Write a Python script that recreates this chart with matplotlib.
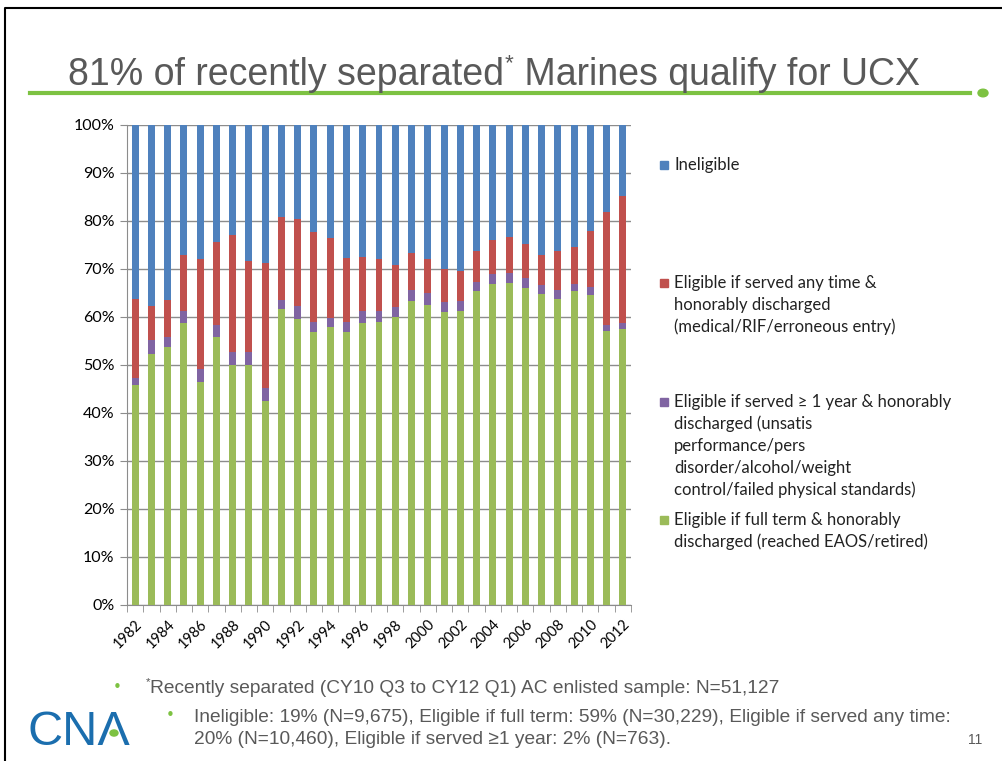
import numpy as np
import matplotlib.pyplot as plt
from matplotlib.lines import Line2D
from matplotlib.patches import Rectangle, Circle

years = np.arange(1982, 2013)

# cumulative tops (percent)
full_term = [45.9, 52.3, 53.7, 58.7, 46.4, 55.9, 49.9, 50.0, 42.4, 61.7, 59.5,
             56.8, 57.9, 56.8, 58.7, 59.0, 60.0, 63.3, 62.6, 61.0, 61.2, 65.5,
             66.9, 67.1, 66.0, 64.8, 63.7, 65.5, 64.6, 57.0, 57.5]
one_year_top = [47.3, 55.2, 55.8, 61.2, 49.1, 58.3, 52.7, 52.7, 45.2, 63.5, 62.2,
                59.0, 59.7, 59.0, 61.3, 61.3, 62.1, 65.6, 65.1, 63.2, 63.3, 67.2,
                69.0, 69.2, 68.1, 66.6, 65.6, 66.8, 66.3, 58.4, 58.8]
any_time_top = [63.8, 62.2, 63.6, 72.9, 72.0, 75.7, 77.1, 71.6, 71.3, 80.9, 80.5,
                77.7, 76.4, 72.2, 72.6, 72.1, 70.9, 73.3, 72.0, 69.9, 69.5, 73.7,
                76.1, 76.6, 75.2, 73.0, 73.7, 74.5, 78.0, 81.8, 85.3]

full_term = np.array(full_term)
one_year = np.array(one_year_top) - full_term
any_time = np.array(any_time_top) - np.array(one_year_top)
ineligible = 100 - np.array(any_time_top)

c_blue, c_red, c_purple, c_green = "#4F81BD", "#C0504D", "#8064A2", "#9BBB59"
gray_txt = "#595959"
sans = ["Liberation Sans", "DejaVu Sans"]
body = ["Lato", "DejaVu Sans"]

fig = plt.figure(figsize=(10.02, 7.61), dpi=100)
W, H = 1002, 761
fx = lambda px: px / W
fy = lambda py: 1 - py / H
renderer = fig.canvas.get_renderer()


def text_with_star(x0, y0, before, after, size, **kw):
    # text, then a small raised asterisk, then the rest
    x1 = x0
    if before:
        t1 = fig.text(x0, y0, before, fontsize=size, **kw)
        x1 = t1.get_window_extent(renderer).x1 / W + fx(1)
    t2 = fig.text(x1, y0 + size * 0.42 / 72 * 100 / H, "*", fontsize=size * 0.6, **kw)
    x2 = t2.get_window_extent(renderer).x1 / W
    if after:
        fig.text(x2, y0, after, fontsize=size, **kw)


ax = fig.add_axes([fx(127), fy(605), fx(631) - fx(127), fy(125) - fy(605)])
x = np.arange(len(years))
bw = 0.43
ax.bar(x, full_term, bw, color=c_green, zorder=3)
ax.bar(x, one_year, bw, bottom=full_term, color=c_purple, zorder=3)
ax.bar(x, any_time, bw, bottom=full_term + one_year, color=c_red, zorder=3)
ax.bar(x, ineligible, bw, bottom=np.array(any_time_top), color=c_blue, zorder=3)

ax.set_xlim(-0.5, len(years) - 0.5)
ax.set_ylim(0, 100)
ax.set_yticks(np.arange(0, 101, 10))
ax.set_yticklabels([f"{v}%" for v in range(0, 101, 10)], family=body, fontsize=11.5)
ax.yaxis.grid(True, color="#8c8c8c", lw=1, zorder=0)
ax.tick_params(axis="y", length=5, color="#8c8c8c", pad=4)

ax.set_xticks(x[::2])
ax.set_xticklabels([str(y) for y in years[::2]], rotation=45, ha="right", va="top",
                   rotation_mode="anchor", family=body, fontsize=10.5)
ax.set_xticks(np.arange(-0.5, len(years)), minor=True)
ax.tick_params(axis="x", which="major", length=0, pad=9)
ax.tick_params(axis="x", which="minor", length=5, color="#8c8c8c")
for s in ["top", "right"]:
    ax.spines[s].set_visible(False)
for s in ["left", "bottom"]:
    ax.spines[s].set_color("#8c8c8c")

# legend, drawn by hand
legend = [
    (c_blue, 165, ["Ineligible"]),
    (c_red, 283, ["Eligible if served any time &", "honorably discharged",
                  "(medical/RIF/erroneous entry)"]),
    (c_purple, 402, ["Eligible if served \u2265 1 year & honorably", "discharged (unsatis",
                     "performance/pers", "disorder/alcohol/weight",
                     "control/failed physical standards)"]),
    (c_green, 520, ["Eligible if full term & honorably",
                    "discharged (reached EAOS/retired)"]),
]
for col, y0, lines in legend:
    fig.patches.append(Rectangle((fx(660), fy(y0 + 4)), fx(8), fy(y0 - 4) - fy(y0 + 4),
                                 color=col, transform=fig.transFigure))
    for i, ln in enumerate(lines):
        fig.text(fx(674), fy(y0 + 22 * i), ln, family=body, fontsize=12,
                 color="#222222", va="center", ha="left")

# title and rule
text_with_star(fx(68), fy(85), "81% of recently separated", " Marines qualify for UCX", 27,
               family=sans, color=gray_txt, va="baseline", ha="left")
fig.add_artist(Line2D([fx(30), fx(970)], [fy(93), fy(93)], color="#7DC242", lw=3,
                      transform=fig.transFigure))
fig.add_artist(Circle((fx(983), fy(93)), 0.005, color="#7DC242",
                      transform=fig.transFigure))

# slide frame
fig.add_artist(Line2D([fx(5), fx(5), fx(1002)], [0, fy(8), fy(8)], color="black", lw=1.5,
                      transform=fig.transFigure))

# footnotes
fig.text(fx(117), fy(687), "\u2022", color="#7DC242", fontsize=11, va="center", ha="center")
text_with_star(fx(146), fy(693), "", "Recently separated (CY10 Q3 to CY12 Q1) AC enlisted sample: N=51,127",
               13.8, family=sans, color=gray_txt, va="baseline", ha="left")
fig.text(fx(170), fy(716), "\u2022", color="#7DC242", fontsize=11, va="center", ha="center")
fig.text(fx(194), fy(722), "Ineligible: 19% (N=9,675), Eligible if full term: 59% (N=30,229), Eligible if served any time:",
         family=sans, fontsize=13.8, color=gray_txt, va="baseline", ha="left")
fig.text(fx(194), fy(744), "20% (N=10,460), Eligible if served \u22651 year: 2% (N=763).",
         family=sans, fontsize=13.8, color=gray_txt, va="baseline", ha="left")
fig.text(fx(975), fy(740), "11", family=sans, fontsize=10, color=gray_txt, va="center", ha="center")

# logo
fig.text(fx(28), fy(745), "CN\u039b", family=sans, fontsize=35,
         color="#1B6EAE", va="baseline", ha="left")
fig.add_artist(Circle((fx(114), fy(733)), 0.004, color="#7DC242", transform=fig.transFigure))

fig.savefig("out.png", dpi=100)
